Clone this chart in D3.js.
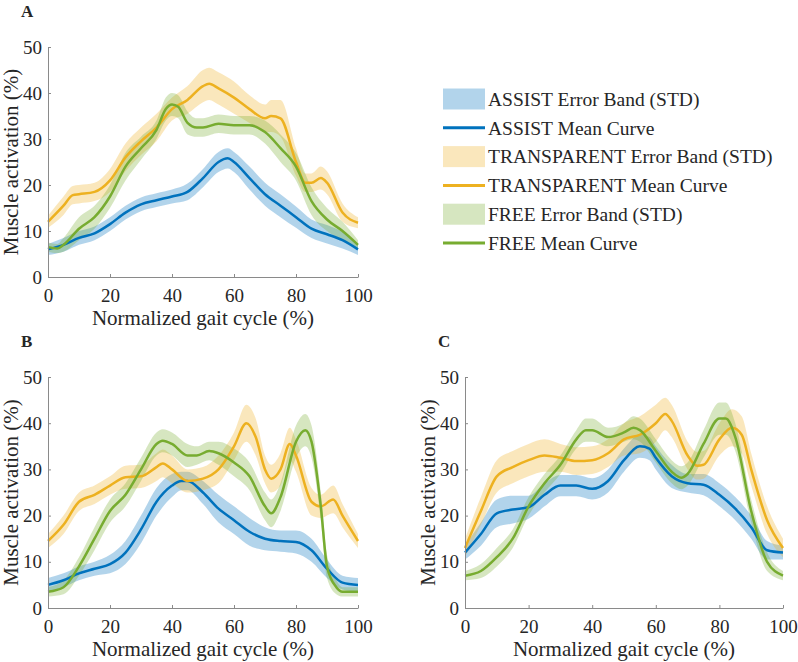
<!DOCTYPE html>
<html>
<head>
<meta charset="utf-8">
<script src="https://cdn.jsdelivr.net/npm/d3@7"></script>
<style>
  body { margin: 0; background: #fff; }
  text { font-family: "Liberation Serif", "Times New Roman", serif; fill: #262626; }
</style>
</head>
<body>
<div id="graph"></div>
<script>
var width = 798, height = 662;

// [x, mean, std]
var aAssist = [[0,6,1.2],[5,7,1.5],[10,8.5,1.5],[15,9.5,1.5],[20,11.5,1.5],[25,14,1.5],[30,15.8,1.5],[35,16.7,1.5],[40,17.5,1.5],[45,18.5,1.8],[50,21.5,2],[55,25,2.2],[58,25.8,2.2],[60,25,2.2],[65,21.5,2.5],[70,18,2.5],[75,15.5,2.5],[80,13,2.3],[85,10.5,2],[90,9.3,2],[95,8,1.8],[100,6,1.2]];
var aTransp = [[0,12,1.3],[5,15.5,2],[8,17.8,2],[10,18,2],[15,18.5,2],[20,21,2.5],[25,26,3],[30,29.5,3],[35,32.5,3],[40,36.5,2.5],[45,38.5,3],[50,41.5,3.5],[52,42,3.5],[55,41,3.5],[60,39,3.5],[65,36.5,3],[70,34.5,3],[72,35,3.5],[75,34.5,4],[80,25,3],[83,20.5,2],[85,20.5,2],[88,21.5,2.5],[90,20.5,2.5],[95,14,2],[100,11.8,1.2]];
var aFree = [[0,6.5,1],[3,6.2,1],[5,7,1.5],[10,10.5,2.5],[15,13,2.5],[20,17.5,2.5],[25,24,3],[30,28,2.5],[35,32,2],[38,36.5,2.5],[40,37.5,2.5],[42,37,2.5],[45,33.5,2.5],[48,32.5,2],[50,32.5,2],[55,33.3,2],[60,33,2],[65,33,2],[70,31.5,2.5],[75,28,3],[80,24,3],[85,16.5,3],[90,12.5,2.5],[95,10,2],[100,7,1]];

var bAssist = [[0,5,1.5],[5,6,1.5],[10,7.5,1.5],[15,8.5,1.5],[20,9.5,2],[25,12,2.5],[30,17,3],[35,23,3],[40,26.5,2.5],[43,27.5,2],[45,27.5,2],[50,25,2.5],[55,21.5,3],[60,19,3],[65,16.5,3],[70,15,2.5],[75,14.5,2.3],[80,14.3,2.5],[85,12.5,2.5],[90,8.5,2],[95,5.5,1.5],[100,5,1.5]];
var bTransp = [[0,14.5,1.5],[5,18,2],[10,23,2],[15,24.5,2],[20,26.5,2],[25,28.3,2.5],[30,28.5,2.5],[35,30.5,3],[37,31.3,3],[40,30,3],[45,27.5,2.5],[50,28,2.5],[55,30,3],[60,35,3],[64,40,4],[67,37,4],[70,30,3],[72,28,3],[75,30,3.5],[78,35.5,3.5],[80,33,3.5],[85,23,3],[88,22,2.5],[92,23.5,3],[95,20,2.5],[100,14.5,1.5]];
var bFree = [[0,3.5,1],[5,4.5,1.5],[10,9,2],[15,15,2.5],[20,21,2.5],[25,24.5,2.5],[30,30,2.5],[35,35.5,2.5],[37,36.2,2.5],[40,35.5,2.5],[45,33,2.5],[48,33,2],[52,34,2],[55,33.5,2.5],[60,31.5,3],[65,28.5,3],[70,22,3],[72,20.5,3],[75,24,3],[80,36,3.5],[83,38.5,3.5],[85,36,3.5],[88,22,3],[90,9,2.5],[93,4.5,1.5],[95,3.5,1],[100,3.5,1]];

var cAssist = [[0,12,1.5],[5,16,2.5],[10,20.5,3],[15,21.3,3],[20,21.8,2.5],[25,24.5,2.5],[30,26.5,2.3],[35,26.5,2.3],[40,25.8,2.3],[45,27.5,2.5],[50,32,2.5],[55,35,2.5],[58,34.5,2.5],[60,32.5,2.5],[65,28.5,2.5],[70,27,2],[75,26.7,2.3],[80,24.5,2.5],[85,21.5,2.5],[90,17.5,2.5],[95,12.5,2],[100,12,1.5]];
var cTransp = [[0,13,2],[5,21,3],[10,28.5,3.5],[15,30.5,3.5],[20,32,3.5],[25,33,3.5],[30,32.5,3],[35,31.8,3],[40,32,3],[45,33.5,3],[50,36.5,3.5],[55,37.5,4],[60,40,4],[63,42,3.5],[65,40.5,3.5],[70,33,3],[73,30.8,3],[75,31,3],[80,36.5,3.5],[84,39,4],[87,37.5,4],[90,30,3.5],[95,19,3],[100,13,2]];
var cFree = [[0,7,1],[5,8,1.5],[10,11,2],[15,15,2],[20,22,2],[25,27,2],[30,31,2],[35,36.5,2],[38,38.5,2.5],[40,38.5,2.5],[45,37,2],[50,38,2],[53,39,2.5],[55,38.5,2.5],[60,34,2.5],[65,29.5,2.5],[68,28.2,2.5],[70,29,2.5],[75,35.5,3],[80,41,3.5],[82,41,3.5],[85,37,3],[90,21,2.5],[95,10,2],[100,7,1]];

var xTicks = [0, 20, 40, 60, 80, 100];
var yTicks = [0, 10, 20, 30, 40, 50];

var lineColors = ["#0072BD", "#EDB120", "#77AC30"];
var legendLabels = ["ASSIST Error Band (STD)", "ASSIST Mean Curve",
                    "TRANSPARENT Error Band (STD)", "TRANSPARENT Mean Curve",
                    "FREE Error Band (STD)", "FREE Mean Curve"];

var panels = [
  { label: "A", x0: 48, x1: 358, y0: 47, y1: 277, series: [aAssist, aTransp, aFree] },
  { label: "B", x0: 48, x1: 358, y0: 377, y1: 608, series: [bAssist, bTransp, bFree] },
  { label: "C", x0: 465, x1: 783, y0: 377, y1: 608, series: [cAssist, cTransp, cFree] }
];

var svg = d3.select("#graph").append("svg")
    .attr("width", width)
    .attr("height", height);

panels.forEach(function(p) {
  var x = d3.scaleLinear().domain([0, 100]).range([p.x0, p.x1]);
  var y = d3.scaleLinear().domain([0, 50]).range([p.y1, p.y0]);
  var g = svg.append("g");

  var area = d3.area()
      .x(function(d) { return x(d[0]); })
      .y0(function(d) { return y(d[1] - d[2]); })
      .y1(function(d) { return y(d[1] + d[2]); })
      .curve(d3.curveMonotoneX);
  var line = d3.line()
      .x(function(d) { return x(d[0]); })
      .y(function(d) { return y(d[1]); })
      .curve(d3.curveMonotoneX);

  p.series.forEach(function(s, i) {
    g.append("path")
      .attr("d", area(s))
      .attr("fill", lineColors[i])
      .attr("fill-opacity", 0.3);
  });
  p.series.forEach(function(s, i) {
    g.append("path")
      .attr("d", line(s))
      .attr("fill", "none")
      .attr("stroke", lineColors[i])
      .attr("stroke-width", 2.5);
  });

  var xAxis = g.append("g")
      .attr("transform", "translate(0," + p.y1 + ")")
      .call(d3.axisBottom(x).tickValues(xTicks).tickSizeInner(-3).tickSizeOuter(0).tickPadding(12));
  var yAxis = g.append("g")
      .attr("transform", "translate(" + p.x0 + ",0)")
      .call(d3.axisLeft(y).tickValues(yTicks).tickSizeInner(-3).tickSizeOuter(0).tickPadding(6));
  [xAxis, yAxis].forEach(function(a) {
    a.select(".domain").attr("stroke", "#8a8a8a");
    a.selectAll(".tick line").attr("stroke", "#8a8a8a");
    a.selectAll(".tick text")
      .attr("fill", "#262626")
      .style("font-family", "'Liberation Serif', serif")
      .style("font-size", "19px");
  });

  g.append("text")
    .attr("x", (p.x0 + p.x1) / 2)
    .attr("y", p.y1 + 48)
    .attr("text-anchor", "middle")
    .style("font-size", "21px")
    .text("Normalized gait cycle (%)");

  g.append("text")
    .attr("transform", "translate(" + (p.x0 - 30) + "," + ((p.y0 + p.y1) / 2) + ") rotate(-90)")
    .attr("text-anchor", "middle")
    .style("font-size", "21px")
    .text("Muscle activation (%)");

  g.append("text")
    .attr("x", p.x0 - 27)
    .attr("y", p.y0 - 30)
    .style("font-size", "17px")
    .style("font-weight", "bold")
    .text(p.label);
});

// legend
var legend = svg.append("g");
legendLabels.forEach(function(lbl, i) {
  var k = Math.floor(i / 2);
  var cy = 99 + i * 28.8;
  if (i % 2 === 0) {
    legend.append("rect")
      .attr("x", 443).attr("y", cy - 10.5)
      .attr("width", 42).attr("height", 21)
      .attr("fill", lineColors[k]).attr("fill-opacity", 0.3);
  } else {
    legend.append("line")
      .attr("x1", 443).attr("x2", 485)
      .attr("y1", cy).attr("y2", cy)
      .attr("stroke", lineColors[k]).attr("stroke-width", 3);
  }
  legend.append("text")
    .attr("x", 488).attr("y", cy)
    .attr("dy", "0.35em")
    .style("font-size", "19.5px")
    .text(lbl);
});
</script>
</body>
</html>
